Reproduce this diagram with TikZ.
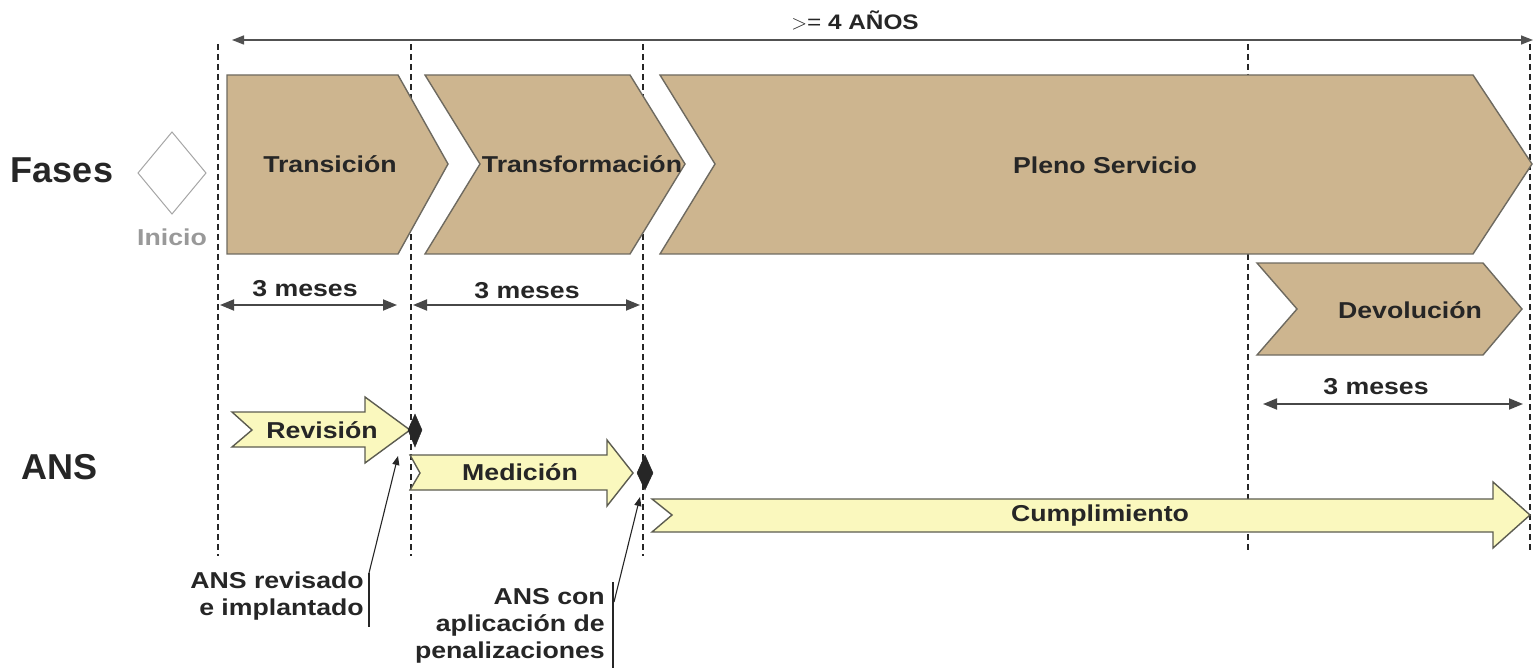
\documentclass[tikz,border=0pt]{standalone}
\usepackage{fontspec}
\setmainfont{Liberation Sans}
\newfontfamily\lab[FakeStretch=1.16]{Liberation Sans}
\usetikzlibrary{arrows.meta}
\definecolor{tan}{HTML}{CDB58F}
\definecolor{tanedge}{HTML}{6E6A60}
\definecolor{pale}{HTML}{FAF8BE}
\definecolor{paleedge}{HTML}{5C5C50}
\definecolor{ink}{HTML}{262626}
\begin{document}
\begin{tikzpicture}[x=1pt,y=-1pt,
  phase/.style={fill=tan,draw=tanedge,line width=1.4pt,line join=miter},
  ansarrow/.style={fill=pale,draw=paleedge,line width=1.4pt},
  guide/.style={draw=black!85,dash pattern=on 6pt off 4pt,line width=1.2pt},
  dim/.style={draw=ink!85,line width=1.8pt,{Triangle[length=14pt,width=11pt]}-{Triangle[length=14pt,width=11pt]}},
  topdim/.style={draw=ink!80,line width=1.4pt,{Triangle[length=12pt,width=9pt]}-{Triangle[length=12pt,width=9pt]}},
  lbl/.style={font=\lab\bfseries\fontsize{23}{27}\selectfont,text=ink,inner sep=0pt},
  big/.style={font=\bfseries\fontsize{36}{40}\selectfont,text=ink,inner sep=0pt},
  callout/.style={draw=ink,line width=1.1pt},
  mile/.style={fill=ink,draw=ink}]
\useasboundingbox (0,0) rectangle (1538,668);
% guides
\draw[guide] (218,44) -- (218,556);
\draw[guide] (411,44) -- (411,556);
\draw[guide] (643,44) -- (643,556);
\draw[guide] (1248,44) -- (1248,552);
\draw[guide] (1530,44) -- (1530,552);
% top dimension
\coordinate (tl) at (232,40);
\coordinate (tr) at (1533,40);
\draw[topdim] (tl) -- (tr);
\node[font=\lab\fontsize{21}{24}\selectfont,text=ink,inner sep=0pt] (years) at (855,20) {$>$= \textbf{4 AÑOS}};
% row titles
\node[big] (fases) at (62,170) {Fases};
\node[big] (ans) at (60,467) {ANS};
% inicio
\draw[draw=black!35,line width=1pt,fill=white] (172,132) -- (206,173) -- (172,214) -- (138,173) -- cycle;
\node[lbl,text=black!40] (inicio) at (172,237) {Inicio};
% phases
\draw[phase] (227,75) -- (398,75) -- (448,164) -- (398,254) -- (227,254) -- cycle;
\node[lbl] (trans) at (330,164) {Transición};
\draw[phase] (425,75) -- (630,75) -- (685,164) -- (630,254) -- (425,254) -- (480,164) -- cycle;
\node[lbl] (transf) at (582,164) {Transformación};
\draw[phase] (660,75) -- (1473,75) -- (1532,164) -- (1473,254) -- (660,254) -- (715,164) -- cycle;
\node[lbl] (pleno) at (1105,165) {Pleno Servicio};
\draw[phase] (1257,263) -- (1483,263) -- (1522,309) -- (1483,355) -- (1257,355) -- (1297,309) -- cycle;
\node[lbl] (devol) at (1410,310) {Devolución};
% durations
\coordinate (d1a) at (220,305); \coordinate (d1b) at (397,305);
\draw[dim] (d1a) -- (d1b);
\node[lbl] (m1) at (305,289) {3 meses};
\coordinate (d2a) at (413,305); \coordinate (d2b) at (640,305);
\draw[dim] (d2a) -- (d2b);
\node[lbl] (m2) at (527,291) {3 meses};
\coordinate (d3a) at (1263,404); \coordinate (d3b) at (1523,404);
\draw[dim] (d3a) -- (d3b);
\node[lbl] (m3) at (1376,387) {3 meses};
% ANS arrows
\draw[ansarrow] (232,412) -- (365,412) -- (365,397) -- (410,430) -- (365,463) -- (365,447) -- (232,447) -- (252,430) -- cycle;
\node[lbl] (rev) at (322,430) {Revisión};
\draw[ansarrow] (410,455) -- (607,455) -- (607,440) -- (633,473) -- (607,506) -- (607,490) -- (410,490) -- (420,473) -- cycle;
\node[lbl] (med) at (520,472) {Medición};
\draw[ansarrow] (652,499) -- (1493,499) -- (1493,482) -- (1530,515) -- (1493,548) -- (1493,532) -- (652,532) -- (672,515) -- cycle;
\node[lbl] (cump) at (1100,516) {Cumplimiento};
% milestones
\draw[mile] (415,414) -- (422,430) -- (415,447) -- (408,430) -- cycle;
\draw[mile] (645,455) -- (653,473) -- (645,490) -- (637,473) -- cycle;
% callouts
\node[lbl,align=right,anchor=north east] (c1) at (364,572) {ANS revisado\\e implantado};
\coordinate (b1t) at (369,573); \coordinate (b1b) at (369,627);
\coordinate (p1) at (398,456);
\draw[callout] (b1t) -- (b1b);
\draw[callout,-{Triangle[length=9pt,width=7pt]}] (b1t) -- (p1);
\node[lbl,align=right,anchor=north east] (c2) at (605,588) {ANS con\\aplicación de\\penalizaciones};
\coordinate (b2t) at (613,582); \coordinate (b2b) at (613,668);
\coordinate (b2m) at (614,602);
\coordinate (p2) at (640,497);
\draw[callout] (b2t) -- (b2b);
\draw[callout,-{Triangle[length=9pt,width=7pt]}] (b2m) -- (p2);
\end{tikzpicture}
\end{document}
